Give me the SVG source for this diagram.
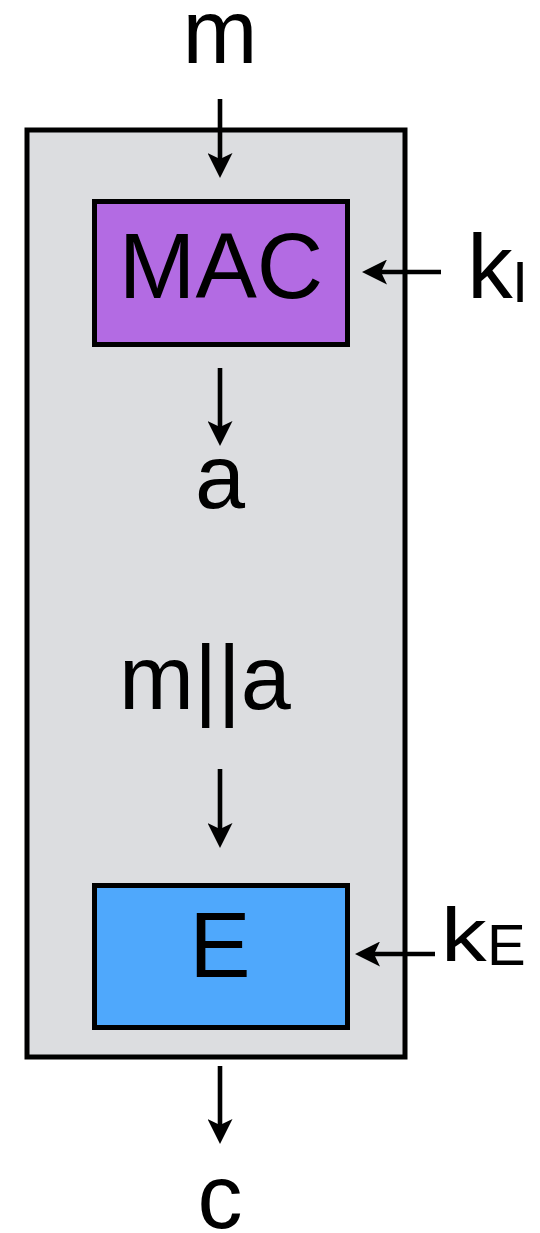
<svg xmlns="http://www.w3.org/2000/svg" width="540" height="1233" viewBox="0 0 540 1233">
  <style>
    .lbl { font-family: "Liberation Sans", Arial, sans-serif; fill: #000; text-anchor: middle; }
    .box { stroke: #000; stroke-width: 5; }
    .conn { stroke: #000; stroke-width: 4.6; fill: none; marker-end: url(#head); }
  </style>
  <defs>
    <!-- notched arrowhead; tip sits 10px past the line end -->
    <marker id="head" viewBox="0 0 25 25" refX="15" refY="12.5" markerWidth="25" markerHeight="25" markerUnits="userSpaceOnUse" orient="auto">
      <path d="M0,0 L25,12.5 L0,25 L6,12.5 Z" fill="#000"/>
    </marker>
  </defs>
  <rect width="540" height="1233" fill="#fff"/>

  <!-- enclosing scheme -->
  <g id="scheme">
    <rect class="box" x="27" y="130" width="378" height="927" fill="#dcdde0" stroke-width="5.5"/>
  </g>

  <!-- MAC block -->
  <g id="mac">
    <rect class="box" x="94.5" y="201.5" width="253" height="143" fill="#b36be3"/>
    <text class="lbl" x="221" y="298" font-size="92">MAC</text>
  </g>

  <!-- encryption block -->
  <g id="enc">
    <rect class="box" x="94.5" y="885.5" width="253" height="142" fill="#4fa8fc"/>
    <text class="lbl" x="220" y="977" font-size="92">E</text>
  </g>

  <!-- labels -->
  <g id="msg"><text class="lbl" x="220" y="63" font-size="90">m</text></g>
  <g id="tag"><text class="lbl" x="220" y="508" font-size="90">a</text></g>
  <g id="concat"><text class="lbl" x="205" y="709" font-size="90">m||a</text></g>
  <g id="cipher"><text class="lbl" x="220" y="1228" font-size="90">c</text></g>
  <g id="kI">
    <text class="lbl" x="490" y="298" font-size="91">k</text>
    <text class="lbl" x="520" y="302" font-size="58">I</text>
  </g>
  <g id="kE">
    <text class="lbl" font-size="76" style="text-anchor:start" transform="translate(441 961) scale(1.2 1)">k</text>
    <text class="lbl" x="487" y="965" font-size="58" style="text-anchor:start">E</text>
  </g>

  <!-- connectors -->
  <g id="connectors">
    <line class="conn" x1="220" y1="99" x2="220" y2="168"/>
    <line class="conn" x1="220" y1="368" x2="220" y2="436"/>
    <line class="conn" x1="220" y1="769" x2="220" y2="838"/>
    <line class="conn" x1="220" y1="1066" x2="220" y2="1134"/>
    <line class="conn" x1="441" y1="272" x2="372" y2="272"/>
    <line class="conn" x1="435" y1="954" x2="365" y2="954"/>
  </g>
</svg>
